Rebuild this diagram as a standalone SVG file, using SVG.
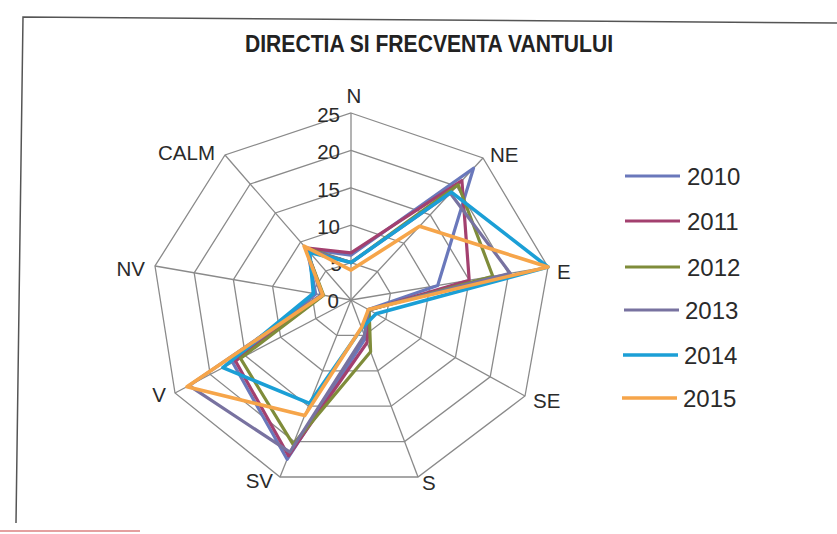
<svg xmlns="http://www.w3.org/2000/svg" width="837" height="534" viewBox="0 0 837 534">
<style>
.grid{fill:none;stroke:#8a8a8a;stroke-width:1.3}
.spoke{stroke:#8a8a8a;stroke-width:1.3}
.lbl{font-family:"Liberation Sans",Arial,sans-serif;font-size:20.5px;fill:#2a2a2a}
.tick{font-family:"Liberation Sans",Arial,sans-serif;font-size:20.5px;fill:#2a2a2a;text-anchor:end}
.leg{font-family:"Liberation Sans",Arial,sans-serif;font-size:24px;fill:#2a2a2a}
.s{fill:none;stroke-width:3.2;stroke-linejoin:round}
.s2010{stroke:#6a78bb}
.s2011{stroke:#a3406f}
.s2012{stroke:#7f8c3a}
.s2013{stroke:#7872a0}
.s2014{stroke:#1b9fd6;stroke-width:3.6}
.s2015{stroke:#f6a54a;stroke-width:3.6}
</style>
<rect width="837" height="534" fill="#ffffff"/>
<g id="frame" fill="none" stroke="#555" stroke-width="1.5">
<polyline points="837,23 23,17 16,523"/>
<line x1="0" y1="531" x2="140" y2="531" stroke="#e4a0a0" stroke-width="2"/>
</g>
<text id="title" x="429" y="52" text-anchor="middle" font-family="'Liberation Sans',Arial,sans-serif" font-size="23" font-weight="bold" fill="#222" textLength="368" lengthAdjust="spacingAndGlyphs">DIRECTIA SI FRECVENTA VANTULUI</text>
<g id="grid">
<polygon class="grid" points="351,262.6 377.4,271.6 390.4,293.4 385.8,319.2 364.4,335.4 336.8,335.4 315.8,318.6 311.8,293.2 325.8,271"/>
<polygon class="grid" points="351,225.2 403.8,243.2 429.8,286.8 420.6,338.4 377.8,370.8 322.6,370.8 280.6,337.2 272.6,286.4 300.6,242"/>
<polygon class="grid" points="351,187.8 430.2,214.8 469.2,280.2 455.4,357.6 391.2,406.2 308.4,406.2 245.4,355.8 233.4,279.6 275.4,213"/>
<polygon class="grid" points="351,150.4 456.6,186.4 508.6,273.6 490.2,376.8 404.6,441.6 294.2,441.6 210.2,374.4 194.2,272.8 250.2,184"/>
<polygon class="grid" points="351,113 483,158 548,267 525,396 418,477 280,477 175,393 155,266 225,155"/>
<line class="spoke" x1="351" y1="300" x2="351" y2="113"/>
<line class="spoke" x1="351" y1="300" x2="483" y2="158"/>
<line class="spoke" x1="351" y1="300" x2="548" y2="267"/>
<line class="spoke" x1="351" y1="300" x2="525" y2="396"/>
<line class="spoke" x1="351" y1="300" x2="418" y2="477"/>
<line class="spoke" x1="351" y1="300" x2="280" y2="477"/>
<line class="spoke" x1="351" y1="300" x2="175" y2="393"/>
<line class="spoke" x1="351" y1="300" x2="155" y2="266"/>
<line class="spoke" x1="351" y1="300" x2="225" y2="155"/>
</g>
<g id="ticks">
<text class="tick" x="340" y="122">25</text>
<text class="tick" x="340" y="159">20</text>
<text class="tick" x="340" y="197">15</text>
<text class="tick" x="340" y="234">10</text>
<text class="tick" x="342" y="271">5</text>
<text class="tick" x="339" y="308">0</text>
</g>
<g id="axis-labels">
<text class="lbl" x="354" y="103" text-anchor="middle">N</text>
<text class="lbl" x="490" y="162">NE</text>
<text class="lbl" x="557" y="279">E</text>
<text class="lbl" x="533" y="408">SE</text>
<text class="lbl" x="422" y="490">S</text>
<text class="lbl" x="273" y="488" text-anchor="end">SV</text>
<text class="lbl" x="166" y="402" text-anchor="end">V</text>
<text class="lbl" x="145" y="276" text-anchor="end">NV</text>
<text class="lbl" x="215" y="160" text-anchor="end">CALM</text>
</g>
<g id="connectors">
<polygon id="series-2010" class="s s2010" points="351,255.1 473.5,168.2 437.7,285.5 368.4,309.6 365.5,338.2 287.1,459.3 232.7,362.5 315.7,293.9 307.2,249.5"/>
<polygon id="series-2011" class="s s2011" points="351,252.9 461.9,180.7 469.2,280.2 369.1,310 367.1,342.5 288.5,455.8 235.5,361 322.8,295.1 305.6,247.8"/>
<polygon id="series-2012" class="s s2012" points="351,262.6 458.2,184.7 492.8,276.2 369.1,310 370.6,351.7 293.1,444.4 240.5,358.4 323.6,295.2 305.6,247.8"/>
<polygon id="series-2013" class="s s2013" points="351,262.6 450.3,193.2 510.2,273.3 368.4,309.6 364.4,335.4 289.9,452.2 189.1,385.6 321.2,294.8 306.6,249"/>
<polygon id="series-2014" class="s s2014" points="351,262.6 451.3,192.1 548,267 376.1,313.8 361.7,328.3 309.5,403.4 222.9,367.7 313.4,293.5 309.7,252.4"/>
<polygon id="series-2015" class="s s2015" points="351,270.1 419.6,226.2 548,267 368.4,309.6 361.5,327.6 304.7,415.4 187,386.7 322.8,295.1 304.1,246.1"/>
</g>
<g id="legend">
<g id="legend-2010"><line class="s s2010" x1="625" y1="176" x2="680" y2="176"/><text class="leg" x="687" y="185">2010</text></g>
<g id="legend-2011"><line class="s s2011" x1="625" y1="221" x2="680" y2="221"/><text class="leg" x="687" y="230">2011</text></g>
<g id="legend-2012"><line class="s s2012" x1="625" y1="267" x2="680" y2="267"/><text class="leg" x="687" y="276">2012</text></g>
<g id="legend-2013"><line class="s s2013" x1="624" y1="310" x2="679" y2="310"/><text class="leg" x="685" y="319">2013</text></g>
<g id="legend-2014"><line class="s s2014" x1="623" y1="355" x2="678" y2="355"/><text class="leg" x="684" y="364">2014</text></g>
<g id="legend-2015"><line class="s s2015" x1="622" y1="398" x2="677" y2="398"/><text class="leg" x="683" y="407">2015</text></g>
</g>
</svg>
